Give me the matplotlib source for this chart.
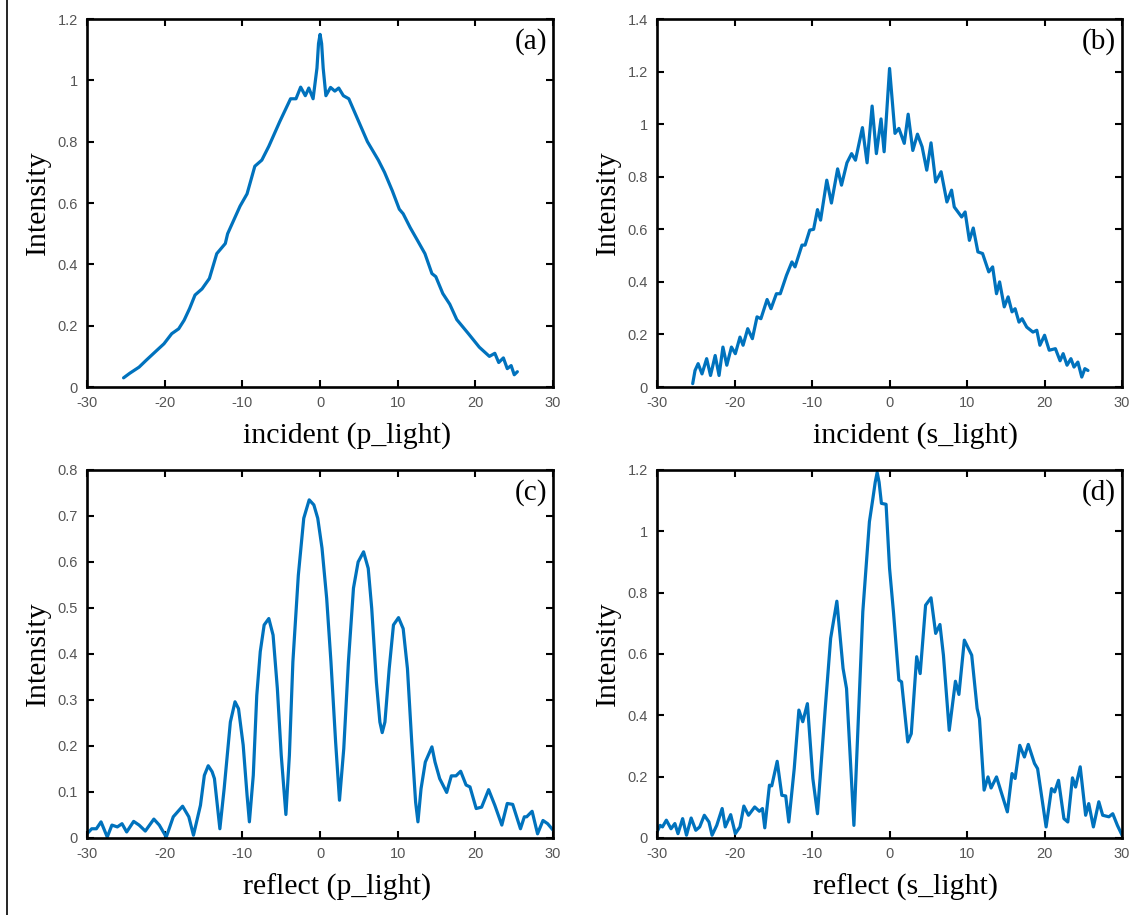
import numpy as np
import matplotlib
matplotlib.use("Agg")
import matplotlib.pyplot as plt
from matplotlib.lines import Line2D
from matplotlib.ticker import FuncFormatter

BLUE = "#0072BD"
GREY = "#555555"
plt.rcParams["axes.unicode_minus"] = False

# (a) incident p-light
a_x = [-25.3, -24.5, -23.3, -22.4, -21.0, -20.1, -19.1, -18.2, -17.5, -16.8,
       -16.1, -15.2, -14.25, -13.3, -12.2, -11.9, -10.3, -9.4, -8.4, -7.5,
       -6.6, -5.2, -3.8, -3.1, -2.5, -1.9, -1.45, -0.9, -0.4, -0.2, 0.0, 0.2,
       0.4, 0.75, 1.35, 1.9, 2.4, 3.0, 3.7, 4.9, 6.1, 7.5, 8.3, 9.3, 10.2,
       10.7, 11.6, 12.5, 13.5, 14.4, 14.9, 15.8, 16.7, 17.6, 19.1, 20.5, 21.8,
       22.5, 23.0, 23.6, 24.1, 24.6, 25.0, 25.4]
a_y = [0.03, 0.045, 0.065, 0.087, 0.12, 0.141, 0.174, 0.19, 0.218, 0.256,
       0.30, 0.32, 0.354, 0.435, 0.468, 0.50, 0.59, 0.63, 0.72, 0.74, 0.785,
       0.865, 0.94, 0.94, 0.978, 0.95, 0.975, 0.94, 1.04, 1.12, 1.15, 1.12,
       1.04, 0.95, 0.977, 0.965, 0.975, 0.95, 0.94, 0.87, 0.80, 0.74, 0.70,
       0.64, 0.58, 0.565, 0.52, 0.48, 0.435, 0.37, 0.36, 0.305, 0.27, 0.22,
       0.174, 0.13, 0.10, 0.11, 0.08, 0.095, 0.06, 0.07, 0.04, 0.05]

# (b) incident s-light
b_x = [-25.4, -25.1, -24.7, -24.2, -23.6, -23.1, -22.5, -22.0, -21.5, -21.0,
       -20.4, -19.9, -19.3, -18.9, -18.3, -17.7, -17.1, -16.6, -15.8, -15.3,
       -14.6, -14.1, -13.3, -12.6, -12.2, -11.3, -10.9, -10.3, -9.8, -9.3,
       -8.9, -8.1, -7.5, -6.7, -6.2, -5.5, -4.9, -4.4, -3.5, -2.9, -2.25,
       -1.7, -1.1, -0.7, 0.0, 0.7, 1.2, 1.9, 2.4, 3.0, 3.6, 4.2, 4.8, 5.35,
       5.95, 6.65, 7.4, 8.0, 8.35, 9.3, 9.75, 10.3, 10.8, 11.4, 12.0, 12.8,
       13.3, 13.8, 14.2, 14.8, 15.3, 15.8, 16.2, 16.7, 17.1, 17.7, 18.5, 19.0,
       19.4, 20.0, 20.6, 21.4, 22.0, 22.4, 22.9, 23.4, 23.8, 24.3, 24.8, 25.2,
       25.6]
b_y = [0.013, 0.063, 0.089, 0.05, 0.108, 0.044, 0.12, 0.044, 0.152, 0.083,
       0.152, 0.127, 0.19, 0.159, 0.222, 0.184, 0.267, 0.26, 0.333, 0.298,
       0.355, 0.355, 0.425, 0.476, 0.457, 0.54, 0.54, 0.597, 0.60, 0.675,
       0.635, 0.787, 0.70, 0.83, 0.768, 0.853, 0.888, 0.863, 0.987, 0.853,
       1.069, 0.888, 1.02, 0.895, 1.212, 0.965, 0.984, 0.927, 1.038, 0.90,
       0.962, 0.914, 0.825, 0.929, 0.78, 0.819, 0.704, 0.749, 0.685, 0.647,
       0.666, 0.558, 0.605, 0.514, 0.508, 0.438, 0.457, 0.355, 0.40, 0.305,
       0.343, 0.286, 0.298, 0.247, 0.26, 0.228, 0.209, 0.216, 0.159, 0.197,
       0.14, 0.146, 0.10, 0.127, 0.083, 0.108, 0.076, 0.095, 0.038, 0.07,
       0.063]

# (c) reflect p-light
c_x = [-30.0, -29.4, -28.8, -28.2, -27.4, -26.8, -26.1, -25.5, -24.9, -24.0,
       -23.3, -22.5, -21.4, -20.7, -19.8, -18.9, -17.7, -16.9, -16.3, -15.4,
       -14.9, -14.4, -13.9, -13.6, -12.9, -12.35, -11.55, -10.95, -10.5, -9.9,
       -9.4, -9.1, -8.6, -8.15, -7.7, -7.2, -6.6, -6.05, -5.5, -5.0, -4.4,
       -3.95, -3.5, -2.8, -2.1, -1.4, -0.8, -0.3, 0.25, 0.85, 1.4, 2.0, 2.5,
       3.05, 3.65, 4.3, 4.9, 5.6, 6.2, 6.65, 7.25, 7.7, 8.0, 8.35, 8.9, 9.45,
       10.1, 10.7, 11.25, 11.8, 12.3, 12.6, 13.0, 13.55, 14.4, 14.8, 15.4,
       16.3, 16.9, 17.5, 18.1, 18.8, 19.3, 20.1, 20.8, 21.7, 22.5, 23.4, 24.1,
       24.8, 25.8, 26.3, 26.6, 27.3, 28.0, 28.7, 29.3, 30.0]
c_y = [0.009, 0.02, 0.02, 0.035, 0.002, 0.028, 0.024, 0.031, 0.013, 0.036,
       0.028, 0.015, 0.041, 0.028, 0.002, 0.046, 0.069, 0.046, 0.006, 0.071,
       0.136, 0.157, 0.144, 0.129, 0.02, 0.107, 0.252, 0.296, 0.281, 0.202,
       0.093, 0.035, 0.136, 0.31, 0.405, 0.463, 0.477, 0.441, 0.325, 0.18,
       0.051, 0.18, 0.383, 0.571, 0.695, 0.735, 0.724, 0.695, 0.63, 0.521,
       0.383, 0.209, 0.082, 0.194, 0.383, 0.543, 0.60, 0.622, 0.586, 0.499,
       0.339, 0.252, 0.229, 0.252, 0.368, 0.463, 0.479, 0.455, 0.368, 0.209,
       0.078, 0.035, 0.107, 0.165, 0.198, 0.165, 0.129, 0.099, 0.135, 0.135,
       0.145, 0.115, 0.111, 0.064, 0.067, 0.105, 0.071, 0.028, 0.075, 0.073,
       0.02, 0.046, 0.046, 0.058, 0.009, 0.038, 0.031, 0.017]

# (d) reflect s-light
d_x = [-30.0, -29.6, -29.3, -28.8, -28.2, -27.7, -27.3, -26.7, -26.2, -25.6,
       -25.0, -24.5, -23.9, -23.3, -22.9, -22.3, -21.6, -21.2, -20.5, -19.9,
       -19.3, -18.8, -18.2, -17.4, -16.8, -16.4, -16.1, -15.5, -15.2, -14.5,
       -13.9, -13.4, -13.0, -12.3, -11.7, -11.2, -10.6, -9.9, -9.3, -8.3,
       -7.6, -6.8, -6.0, -5.55, -4.6, -3.45, -2.6, -2.15, -1.85, -1.6, -1.35,
       -1.05, -0.45, 0.0, 0.5, 1.2, 1.55, 2.35, 2.8, 3.5, 3.95, 4.65, 5.35,
       5.95, 6.5, 6.95, 7.7, 8.5, 8.95, 9.65, 10.6, 11.3, 11.6, 12.2, 12.7,
       13.1, 13.8, 14.4, 15.2, 15.8, 16.2, 16.8, 17.4, 17.9, 18.7, 19.1, 20.2,
       20.9, 21.3, 21.8, 22.5, 23.0, 23.6, 24.0, 24.6, 25.3, 25.7, 26.3, 27.0,
       27.5, 28.3, 28.8, 29.4, 30.0]
d_y = [0.02, 0.041, 0.036, 0.058, 0.03, 0.047, 0.014, 0.063, 0.009, 0.065,
       0.025, 0.036, 0.074, 0.052, 0.009, 0.041, 0.096, 0.036, 0.076, 0.014,
       0.036, 0.104, 0.074, 0.101, 0.087, 0.096, 0.033, 0.172, 0.17, 0.25,
       0.139, 0.137, 0.052, 0.226, 0.417, 0.379, 0.438, 0.194, 0.079, 0.422,
       0.651, 0.772, 0.553, 0.487, 0.041, 0.738, 1.031, 1.107, 1.16, 1.192,
       1.16, 1.091, 1.088, 0.879, 0.738, 0.515, 0.509, 0.313, 0.34, 0.591,
       0.536, 0.759, 0.783, 0.667, 0.696, 0.596, 0.351, 0.511, 0.468, 0.645,
       0.596, 0.422, 0.389, 0.156, 0.199, 0.163, 0.199, 0.15, 0.085, 0.21,
       0.194, 0.302, 0.264, 0.305, 0.243, 0.226, 0.036, 0.161, 0.15, 0.188,
       0.063, 0.052, 0.196, 0.166, 0.232, 0.074, 0.112, 0.036, 0.118, 0.074,
       0.069, 0.079, 0.041, 0.009]

panels = [
    (a_x, a_y, "(a)", "incident (p_light)", 1.2, 0.2),
    (b_x, b_y, "(b)", "incident (s_light)", 1.4, 0.2),
    (c_x, c_y, "(c)", "reflect (p_light)", 0.8, 0.1),
    (d_x, d_y, "(d)", "reflect (s_light)", 1.2, 0.2),
]
# axes rectangles in figure fraction (left, bottom, width, height)
rects = [
    (0.0767, 0.5770, 0.4106, 0.4022),
    (0.5789, 0.5770, 0.4097, 0.4022),
    (0.0767, 0.0842, 0.4106, 0.4022),
    (0.5789, 0.0842, 0.4097, 0.4022),
]

SERIF = ["Liberation Serif", "DejaVu Serif"]
SANS = ["Liberation Sans", "DejaVu Sans"]
fmt = FuncFormatter(lambda v, p: f"{v:g}")

fig = plt.figure(figsize=(11.35, 9.15), dpi=100)
for (xs, ys, tag, xlab, ymax, ystep), rect in zip(panels, rects):
    ax = fig.add_axes(rect)
    ax.plot(xs, ys, color=BLUE, lw=2.3, solid_joinstyle="round",
            solid_capstyle="round")
    ax.set_xlim(-30, 30)
    ax.set_ylim(0, ymax)
    ax.set_xticks(np.arange(-30, 31, 10))
    ax.set_yticks(np.arange(0, ymax + ystep / 2, ystep))
    ax.yaxis.set_major_formatter(fmt)
    ax.tick_params(direction="in", length=5, width=1.5, top=True, right=True,
                   labelsize=10.5, labelcolor=GREY, pad=6.5)
    for lab in ax.get_xticklabels() + ax.get_yticklabels():
        lab.set_family(SANS)
    for s in ax.spines.values():
        s.set_linewidth(1.9)
    ax.set_ylabel("Intensity", family=SERIF, fontsize=21.5)
    ax.yaxis.set_label_coords(-0.077, 0.5)
    ax.set_xlabel(xlab, family=SERIF, fontsize=21.5, ha="left", va="center")
    ax.xaxis.set_label_coords(0.335, -0.133)
    ax.text(0.987, 0.975, tag, transform=ax.transAxes, ha="right", va="top",
            family=SERIF, fontsize=21)

# thin page-edge rule on the left
fig.add_artist(Line2D([0.0066, 0.0066], [0, 1], color="k", lw=1.2))

fig.savefig("out.png", dpi=100)
